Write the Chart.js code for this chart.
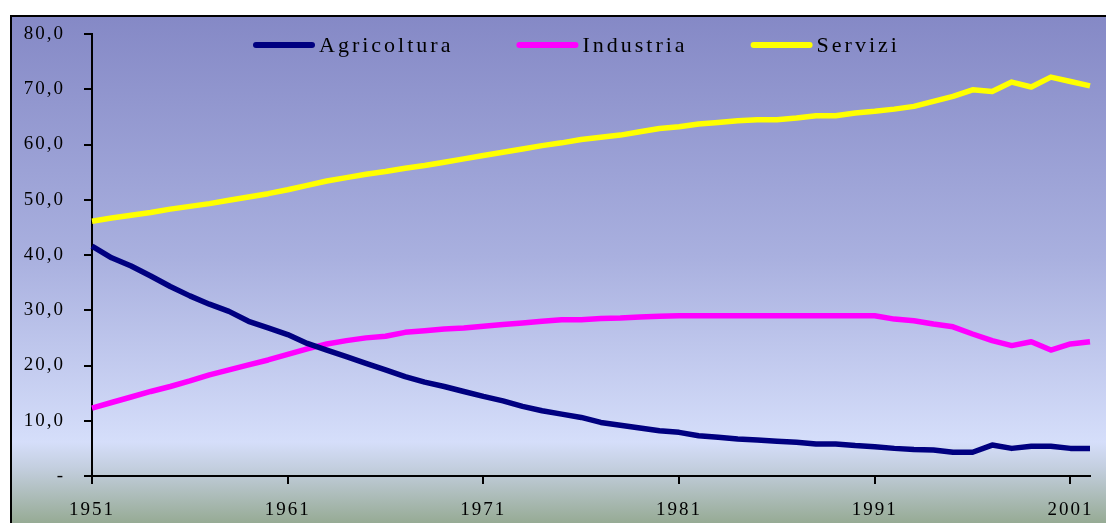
<!DOCTYPE html>
<html lang="it">
<head>
    <meta charset="UTF-8">
    <title>Occupati per settore</title>
    <style>
        body {
            margin: 0;
            background: #fff;
            width: 1106px;
            height: 523px;
            overflow: hidden;
            position: relative;
        }

        #frame {
            position: absolute;
            left: 10px;
            top: 15px;
            width: 1200px;
            height: 600px;
            border: 2px solid #000;
            background: linear-gradient(to bottom, #8589c6 0px, #a9b0df 240px, #d5defa 425px, #c4cfe0 450px, #93a88f 510px);
        }

        #chart {
            position: absolute;
            left: 0;
            top: 0;
        }
    </style>
</head>
<body>
    <div id="frame"></div>
    <canvas id="chart" width="1106" height="523"></canvas>

    <script src="https://cdn.jsdelivr.net/npm/chart.js"></script>
    <script>
        const years = [
            1951, 1952, 1953, 1954, 1955, 1956, 1957, 1958, 1959, 1960,
            1961, 1962, 1963, 1964, 1965, 1966, 1967, 1968, 1969, 1970,
            1971, 1972, 1973, 1974, 1975, 1976, 1977, 1978, 1979, 1980,
            1981, 1982, 1983, 1984, 1985, 1986, 1987, 1988, 1989, 1990,
            1991, 1992, 1993, 1994, 1995, 1996, 1997, 1998, 1999, 2000,
            2001, 2002
        ];

        const agricoltura = [
            41.6, 39.5, 38.0, 36.2, 34.3, 32.6, 31.1, 29.8, 28.0, 26.8,
            25.6, 24.0, 22.8, 21.6, 20.4, 19.2, 18.0, 17.0, 16.2, 15.3,
            14.4, 13.6, 12.6, 11.8, 11.2, 10.6, 9.7, 9.2, 8.7, 8.2,
            7.9, 7.3, 7.0, 6.7, 6.5, 6.3, 6.1, 5.8, 5.8, 5.5,
            5.3, 5.0, 4.8, 4.7, 4.3, 4.3, 5.6, 5.0, 5.4, 5.4,
            5.0, 5.0
        ];

        const industria = [
            12.3, 13.3, 14.3, 15.3, 16.2, 17.2, 18.3, 19.2, 20.1, 21.0,
            22.0, 23.0, 23.9, 24.5, 25.0, 25.3, 26.0, 26.3, 26.6, 26.8,
            27.1, 27.4, 27.7, 28.0, 28.3, 28.3, 28.5, 28.6, 28.8, 28.9,
            29.0, 29.0, 29.0, 29.0, 29.0, 29.0, 29.0, 29.0, 29.0, 29.0,
            29.0, 28.4, 28.1, 27.5, 27.0, 25.7, 24.5, 23.6, 24.3, 22.8,
            23.9, 24.3
        ];

        const servizi = [
            46.1, 46.7, 47.2, 47.7, 48.3, 48.8, 49.3, 49.9, 50.5, 51.1,
            51.8, 52.6, 53.4, 54.0, 54.6, 55.1, 55.7, 56.2, 56.8, 57.4,
            58.0, 58.6, 59.2, 59.8, 60.3, 60.9, 61.3, 61.7, 62.3, 62.9,
            63.2, 63.7, 64.0, 64.3, 64.5, 64.5, 64.8, 65.2, 65.2, 65.7,
            66.0, 66.4, 66.9, 67.8, 68.7, 69.9, 69.6, 71.3, 70.4, 72.2,
            71.4, 70.6
        ];

        const fontFamily = '"Liberation Serif", "Times New Roman", serif';

        // canvas text has no css letter-spacing, set it on the context
        const spacing = {
            id: 'spacing',
            beforeLayout(chart) { chart.ctx.letterSpacing = '2px'; },
            beforeDraw(chart) { chart.ctx.letterSpacing = '2px'; }
        };

        // legend sits inside the plot, line samples then text
        const lineLegend = {
            id: 'lineLegend',
            afterDraw(chart) {
                const ctx = chart.ctx;
                const sets = chart.data.datasets;
                ctx.save();
                ctx.font = '22px ' + fontFamily;
                ctx.letterSpacing = '3px';
                ctx.textAlign = 'left';
                ctx.textBaseline = 'middle';
                let x = 256;
                const y = 45;
                sets.forEach(d => {
                    ctx.strokeStyle = d.borderColor;
                    ctx.lineWidth = 6;
                    ctx.lineCap = 'round';
                    ctx.beginPath();
                    ctx.moveTo(x, y);
                    ctx.lineTo(x + 56, y);
                    ctx.stroke();
                    ctx.fillStyle = '#000';
                    ctx.fillText(d.label, x + 63, y + 1);
                    x += 63 + ctx.measureText(d.label).width + 66;
                });
                ctx.restore();
            }
        };

        const ctx = document.getElementById('chart').getContext('2d');

        const lineStyle = {
            borderWidth: 5.5,
            pointRadius: 0,
            pointHoverRadius: 0,
            tension: 0,
            fill: false,
            borderJoinStyle: 'round'
        };

        new Chart(ctx, {
            type: 'line',
            data: {
                labels: years,
                datasets: [
                    Object.assign({ label: 'Agricoltura', data: agricoltura, borderColor: '#000080' }, lineStyle),
                    Object.assign({ label: 'Industria', data: industria, borderColor: '#ff00ff' }, lineStyle),
                    Object.assign({ label: 'Servizi', data: servizi, borderColor: '#ffff00' }, lineStyle)
                ]
            },
            options: {
                responsive: false,
                animation: false,
                devicePixelRatio: 1,
                layout: { padding: { top: 34, right: 16, left: 0, bottom: 0 } },
                plugins: {
                    legend: { display: false },
                    tooltip: { enabled: false }
                },
                scales: {
                    x: {
                        type: 'category',
                        offset: false,
                        afterFit(scale) { scale.height = 47; },
                        border: { color: '#000', width: 2 },
                        grid: {
                            drawOnChartArea: false,
                            drawTicks: true,
                            tickLength: 8,
                            lineWidth: 2,
                            color: c => (c.index % 10 === 0 ? '#000' : 'rgba(0,0,0,0)')
                        },
                        ticks: {
                            autoSkip: false,
                            maxRotation: 0,
                            padding: 15,
                            color: '#000',
                            font: { family: fontFamily, size: 19 },
                            callback: (v, i) => ((years[i] - 1951) % 10 === 0 ? String(years[i]) : '')
                        }
                    },
                    y: {
                        min: 0,
                        max: 80,
                        afterFit(scale) { scale.width = 92; },
                        border: { color: '#000', width: 2 },
                        grid: {
                            drawOnChartArea: false,
                            drawTicks: true,
                            tickLength: 8,
                            lineWidth: 2,
                            color: '#000'
                        },
                        ticks: {
                            stepSize: 10,
                            padding: 19,
                            color: '#000',
                            font: { family: fontFamily, size: 19 },
                            callback: v => (v === 0 ? '-' : v.toFixed(1).replace('.', ','))
                        }
                    }
                }
            },
            plugins: [spacing, lineLegend]
        });
    </script>
</body>
</html>
